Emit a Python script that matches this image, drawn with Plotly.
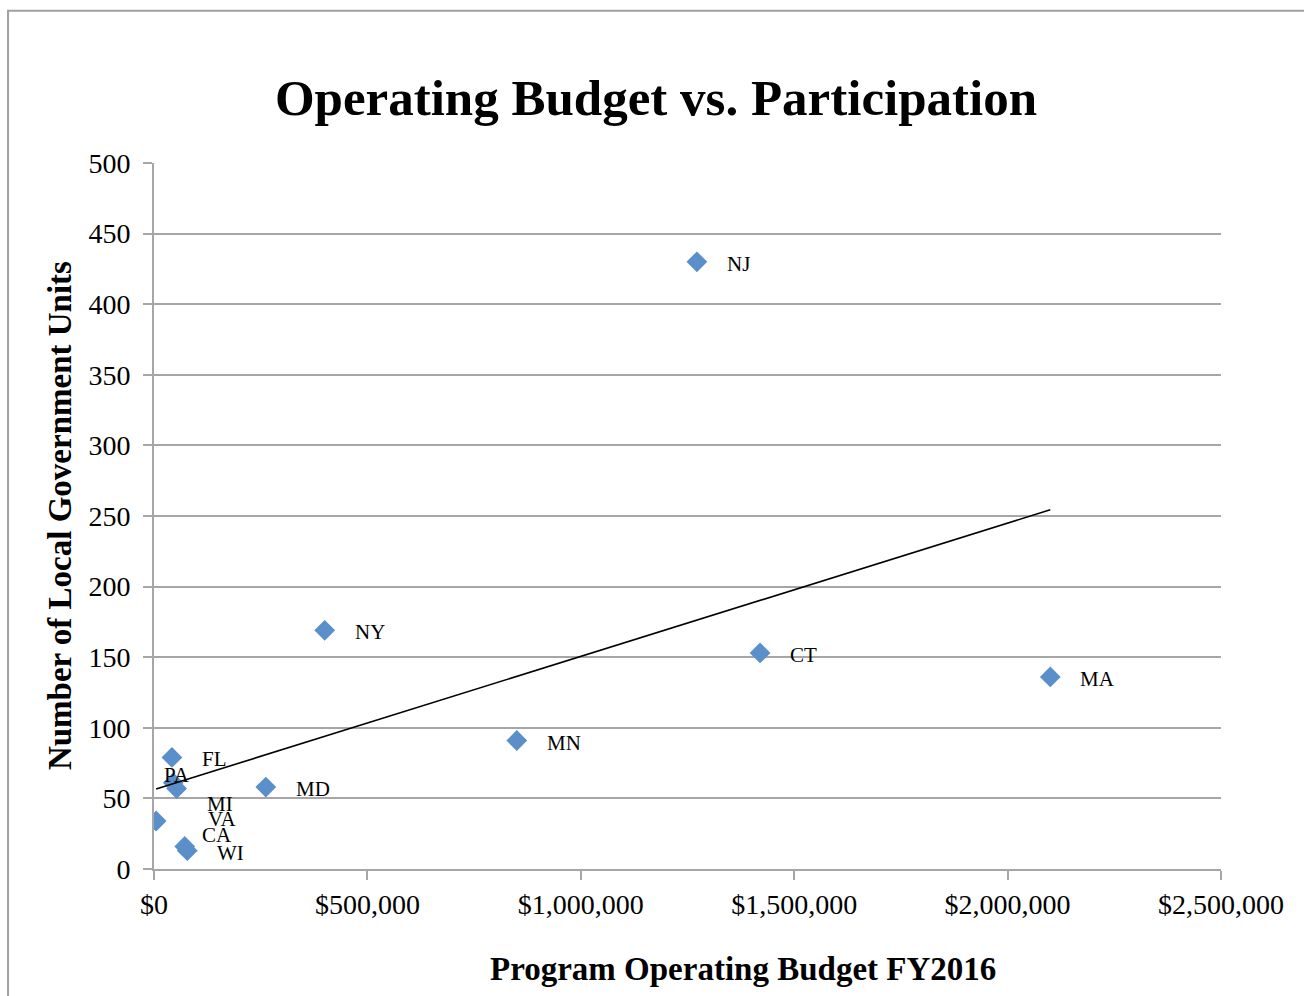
import numpy as np
import plotly.graph_objects as go

# ---- data ----
states = ["NJ", "CT", "MA", "NY", "MN", "MD", "FL", "PA", "MI", "VA", "CA", "WI"]
budget = [1272000, 1420000, 2100000, 400000, 850000, 262000, 42000, 45000, 53000, 5000, 72000, 78000]
units = [430, 153, 136, 169, 91, 58, 79, 61, 57, 34, 16, 13]

x_ticks = [0, 500000, 1000000, 1500000, 2000000, 2500000]
x_tick_labels = ["$0", "$500,000", "$1,000,000", "$1,500,000", "$2,000,000", "$2,500,000"]
y_ticks = list(range(0, 501, 50))

# label offsets in pixels (manually placed labels in the original)
default_shift = (28, -2)
label_shift = {
    "PA": (-11, 8),
    "MI": (28, -15),
    "VA": (50, 2),
    "CA": (15, 11),
    "WI": (28, -2),
}

FONT = "Liberation Serif"
BLUE = "#5B8FCA"
GRID = "#A6A6A6"

slope, intercept = np.polyfit(budget, units, 1)
tx = [min(budget), max(budget)]
ty = [slope * v + intercept for v in tx]

fig = go.Figure()
fig.add_trace(go.Scatter(
    x=budget, y=units, mode="markers",
    marker=dict(symbol="diamond", size=16, color=BLUE, line=dict(width=0)),
    showlegend=False, hoverinfo="text", text=states,
))
fig.add_trace(go.Scatter(
    x=tx, y=ty, mode="lines", line=dict(color="black", width=1.6),
    showlegend=False, hoverinfo="skip",
))

for s, bx, uy in zip(states, budget, units):
    dx, dy = label_shift.get(s, default_shift)
    fig.add_annotation(x=bx, y=uy, text=s, showarrow=False, xanchor="left",
                       yanchor="middle", xshift=dx, yshift=dy,
                       font=dict(family=FONT, size=21, color="black"))

# axis titles
fig.add_annotation(x=0.552, y=-0.141, xref="paper", yref="paper",
                   text="<b>Program Operating Budget FY2016</b>", showarrow=False,
                   xanchor="center", yanchor="middle",
                   font=dict(family=FONT, size=33, color="black"))
fig.add_annotation(x=-0.088, y=0.5, xref="paper", yref="paper",
                   text="<b>Number of Local Government Units</b>", showarrow=False,
                   textangle=-90, xanchor="center", yanchor="middle",
                   font=dict(family=FONT, size=33, color="black"))

# outer frame (extends past right/bottom edge)
fig.add_shape(type="rect", xref="paper", yref="paper",
              x0=-0.1368, x1=1.3, y0=-0.4, y1=1.2155,
              line=dict(color="#A0A0A0", width=2), layer="below")

fig.update_layout(
    width=1304, height=996,
    margin=dict(l=154, r=83, t=163, b=127),
    paper_bgcolor="white", plot_bgcolor="white",
    title=dict(text="<b>Operating Budget vs. Participation</b>",
               x=656 / 1304, xref="container", xanchor="center",
               y=1 - 97 / 996, yref="container", yanchor="middle",
               font=dict(family=FONT, size=51, color="black")),
    font=dict(family=FONT, color="black"),
)
fig.update_xaxes(
    range=[0, 2500000], tickvals=x_ticks, ticktext=x_tick_labels,
    showgrid=False, zeroline=False, showline=True, linecolor=GRID, linewidth=2,
    ticks="outside", ticklen=9, tickwidth=2, tickcolor=GRID,
    tickfont=dict(family=FONT, size=28, color="black"),
)
fig.update_yaxes(
    range=[0, 500], tickvals=y_ticks,
    showgrid=True, gridcolor=GRID, gridwidth=1.6, zeroline=False,
    showline=True, linecolor=GRID, linewidth=2,
    ticks="outside", ticklen=9, tickwidth=2, tickcolor=GRID,
    ticklabelstandoff=7,
    tickfont=dict(family=FONT, size=28, color="black"),
)

fig.write_html("out.html", config={"displayModeBar": False},
               post_script="document.body.style.margin='0';document.body.style.overflow='hidden';")
